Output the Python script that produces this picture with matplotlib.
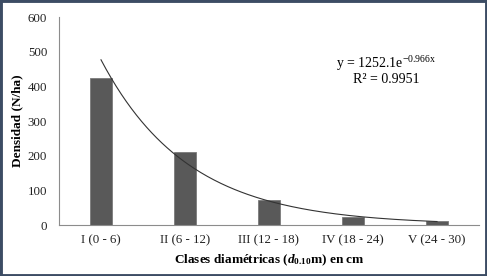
import numpy as np
import matplotlib
matplotlib.use("Agg")
import matplotlib.pyplot as plt
from matplotlib.patches import Rectangle

categories = ["I (0 - 6)", "II (6 - 12)", "III (12 - 18)", "IV (18 - 24)", "V (24 - 30)"]
density = [425, 210, 72, 24, 11]
fit_a = 1252.1
fit_b = -0.966

plt.rcParams['font.family'] = ['Liberation Serif', 'DejaVu Serif']
plt.rcParams['mathtext.fontset'] = 'custom'
plt.rcParams['mathtext.rm'] = 'Liberation Serif'
plt.rcParams['mathtext.it'] = 'Liberation Serif:italic:bold'
plt.rcParams['mathtext.bf'] = 'Liberation Serif:bold'

W, H = 487, 276
fig = plt.figure(figsize=(W / 100, H / 100), dpi=100)
ax = fig.add_axes([59 / W, 1 - 225 / H, (479 - 59) / W, (225 - 17) / H])

x = np.arange(1, len(categories) + 1)
ax.bar(x, density, width=0.27, color='#595959', edgecolor='#7a7a7a', linewidth=0.6, zorder=2)

xf = np.linspace(1, 5, 200)
ax.plot(xf, fit_a * np.exp(fit_b * xf), color='#333333', linewidth=0.8, zorder=3)

ax.set_xlim(0.5, 5.5)
ax.set_ylim(0, 600)
ax.set_yticks(np.arange(0, 601, 100))
ax.set_xticks(x)
ax.set_xticklabels(categories)
ax.tick_params(axis='both', length=0, labelsize=9.3, colors='#222222')
ax.tick_params(axis='x', pad=7)
ax.tick_params(axis='y', pad=8.5)
for s in ['top', 'right']:
    ax.spines[s].set_visible(False)
for s in ['left', 'bottom']:
    ax.spines[s].set_color('#8c8c8c')
    ax.spines[s].set_linewidth(0.8)

ax.set_ylabel('Densidad (N/ha)', fontsize=9.5, fontweight='bold', va='center')
ax.yaxis.set_label_coords((17 - 59) / 420, 0.5)
ax.set_xlabel(r'Clases diamétricas ($\mathit{d}_{\mathbf{0.10}}$m) en cm', fontsize=9.5,
              fontweight='bold', va='center')
ax.xaxis.set_label_coords(0.5, -(260 - 225) / 208)

ax.text(0.779, 0.775, r'y = 1252.1e$^{\mathrm{-0.966x}}$', transform=ax.transAxes,
        ha='center', va='center', fontsize=10)
ax.text(0.779, 0.70, 'R² = 0.9951', transform=ax.transAxes,
        ha='center', va='center', fontsize=10)

fig.patches.append(Rectangle((0, 0), 1, 1, transform=fig.transFigure, fill=False,
                             edgecolor='#3c4c64', linewidth=3.5))

fig.savefig('out.png', dpi=100)
